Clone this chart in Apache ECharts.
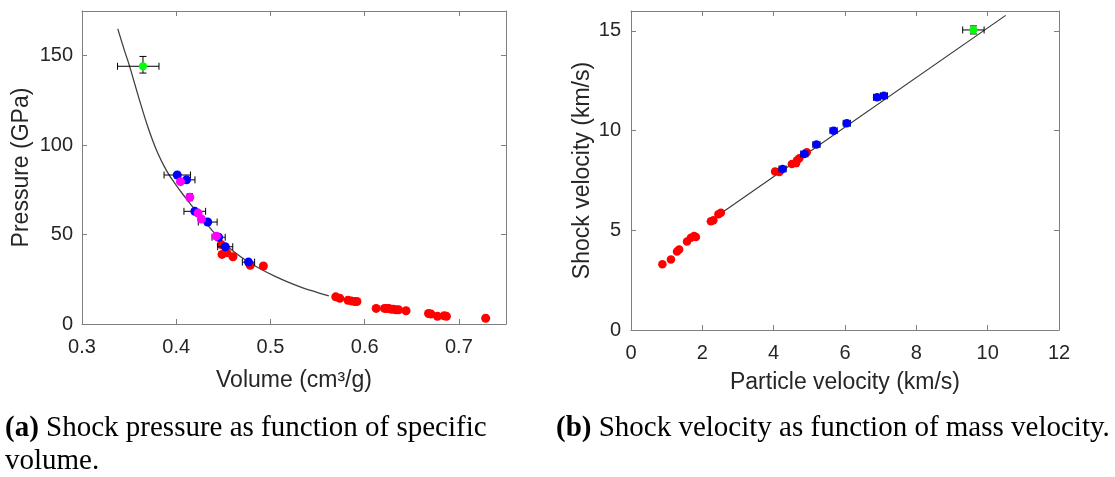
<!DOCTYPE html>
<html>
<head>
<meta charset="utf-8">
<script src="https://cdn.jsdelivr.net/npm/echarts@6/dist/echarts.min.js"></script>
<style>
html,body{margin:0;padding:0;background:#fff;}
#c{width:1115px;height:477px;}
</style>
</head>
<body>
<div id="c"></div>
<script>
// ---- tick labels ----
const leftXTicks = ['0.3', '0.4', '0.5', '0.6', '0.7'];
const leftYTicks = ['0', '50', '100', '150'];
const rightXTicks = ['0', '2', '4', '6', '8', '10', '12'];
const rightYTicks = ['0', '5', '10', '15'];

// ---- (a) pressure vs specific volume: [V, P] ----
const pvRed = [
  [0.4478, 44.4], [0.4486, 38.9], [0.4538, 39.8], [0.4602, 37.6], [0.4785, 32.8], [0.4925, 32.4],
  [0.5693, 15.2], [0.5735, 14.4], [0.5823, 13.3], [0.5858, 12.9], [0.5893, 12.6], [0.5918, 12.6],
  [0.6122, 8.7], [0.6210, 8.7], [0.6234, 8.7], [0.6255, 8.7], [0.6280, 8.3], [0.6304, 8.3],
  [0.6333, 7.9], [0.6361, 7.9], [0.6439, 7.4], [0.6678, 5.9], [0.6703, 5.6], [0.6773, 4.3],
  [0.6844, 4.6], [0.6868, 4.3], [0.7284, 3.2]
];
// [V, P, V-, V+, P-, P+]
const pvBlue = [
  [0.4011, 83.3, 0.014, 0.014, 0, 0],
  [0.4109, 80.6, 0.009, 0.009, 0, 0],
  [0.4197, 63.0, 0.0115, 0.0115, 0, 0],
  [0.4334, 57.0, 0.010, 0.010, 0, 0],
  [0.4450, 48.5, 0.007, 0.007, 0, 0],
  [0.4520, 43.2, 0.008, 0.008, 0, 0],
  [0.4767, 34.6, 0.0065, 0.0065, 0, 0]
];
const pvMagenta = [
  [0.4045, 79.6, 0, 0, 0, 0],
  [0.4144, 70.9, 0.003, 0.003, 2.0, 2.0],
  [0.4232, 62.0, 0, 0, 0, 0],
  [0.4267, 58.7, 0, 0, 0, 0],
  [0.4426, 49.1, 0, 0, 0, 0]
];
const pvGreen = [[0.3647, 144.1, 0.027, 0.017, 3.8, 5.5]];
const pvFit = [
  [0.338, 165], [0.345, 153], [0.350, 145], [0.360, 127], [0.370, 110], [0.380, 96],
  [0.390, 85.5], [0.400, 77.5], [0.410, 70.5], [0.420, 63.8], [0.430, 57.5], [0.440, 51.2],
  [0.450, 45.6], [0.460, 41.0], [0.475, 35.2], [0.490, 30.6], [0.505, 26.6], [0.520, 23.1],
  [0.535, 20.1], [0.550, 17.6], [0.562, 15.7]
];

// ---- (b) shock velocity vs particle velocity: [up, Us] ----
const usRed = [
  [0.88, 3.30], [1.12, 3.54], [1.29, 3.94], [1.35, 4.04], [1.57, 4.44], [1.68, 4.63], [1.77, 4.71],
  [1.82, 4.67], [2.24, 5.46], [2.31, 5.50], [2.45, 5.80], [2.52, 5.88], [4.04, 7.95], [4.16, 7.92],
  [4.51, 8.33], [4.63, 8.37], [4.65, 8.50], [4.72, 8.62], [4.93, 8.92]
];
const usBlue = [
  [4.25, 8.08, 0.1, 0.1, 0.1, 0.1], [4.86, 8.83, 0.1, 0.1, 0.1, 0.1], [5.20, 9.30, 0.1, 0.1, 0.1, 0.1],
  [5.68, 10.00, 0.1, 0.1, 0.1, 0.1], [6.05, 10.37, 0.1, 0.1, 0.1, 0.1], [6.90, 11.67, 0.1, 0.1, 0.1, 0.1],
  [7.09, 11.75, 0.1, 0.1, 0.1, 0.1]
];
const usGreen = [[9.60, 15.05, 0.30, 0.30, 0.2, 0.2]];
const usFit = [[2.576, 5.915], [10.506, 15.78]];

const FRAME = '#7f7f7f';
const TXT = '#262626';
const SANS = '"Liberation Sans", Arial, sans-serif';

function errRender(capPx) {
  return function (params, api) {
    const x = api.value(0), y = api.value(1);
    const xn = api.value(2), xp = api.value(3), yn = api.value(4), yp = api.value(5);
    const st = { stroke: '#000', lineWidth: 1 };
    const ch = [];
    if (xn > 0 || xp > 0) {
      const a = api.coord([x - xn, y]), b = api.coord([x + xp, y]);
      ch.push({ type: 'line', shape: { x1: a[0], y1: a[1], x2: b[0], y2: b[1] }, style: st });
      ch.push({ type: 'line', shape: { x1: a[0], y1: a[1] - capPx, x2: a[0], y2: a[1] + capPx }, style: st });
      ch.push({ type: 'line', shape: { x1: b[0], y1: b[1] - capPx, x2: b[0], y2: b[1] + capPx }, style: st });
    }
    if (yn > 0 || yp > 0) {
      const a = api.coord([x, y - yn]), b = api.coord([x, y + yp]);
      ch.push({ type: 'line', shape: { x1: a[0], y1: a[1], x2: b[0], y2: b[1] }, style: st });
      ch.push({ type: 'line', shape: { x1: a[0] - capPx, y1: a[1], x2: a[0] + capPx, y2: a[1] }, style: st });
      ch.push({ type: 'line', shape: { x1: b[0] - capPx, y1: b[1], x2: b[0] + capPx, y2: b[1] }, style: st });
    }
    return { type: 'group', children: ch };
  };
}

function labelFmt(list, digits) {
  return function (v) {
    const s = digits ? v.toFixed(digits) : String(Math.round(v));
    return list.indexOf(s) >= 0 && Math.abs(parseFloat(s) - v) < 1e-6 ? s : '';
  };
}

function axisBase(show) {
  return {
    axisLine: { show: true, onZero: false, lineStyle: { color: FRAME, width: 1 } },
    axisTick: { show: true, inside: true, length: 5, lineStyle: { color: FRAME } },
    splitLine: { show: false },
    axisLabel: { show: show, color: TXT, fontFamily: SANS, fontSize: 20 }
  };
}

const NAME_STYLE = { color: TXT, fontFamily: SANS, fontSize: 23 };

const grids = [
  { left: 82, top: 11, width: 424, height: 313 },
  { left: 631, top: 11, width: 428, height: 319 }
];

const xAxes = [
  Object.assign(axisBase(true), {
    gridIndex: 0, type: 'value', min: 0.3, max: 0.75, interval: 0.1, position: 'bottom',
    name: 'Volume (cm³/g)', nameLocation: 'middle', nameGap: 45, nameTextStyle: NAME_STYLE
  }),
  Object.assign(axisBase(false), { gridIndex: 0, type: 'value', min: 0.3, max: 0.75, interval: 0.1, position: 'top' }),
  Object.assign(axisBase(true), {
    gridIndex: 1, type: 'value', min: 0, max: 12, interval: 2, position: 'bottom',
    name: 'Particle velocity (km/s)', nameLocation: 'middle', nameGap: 41, nameTextStyle: NAME_STYLE
  }),
  Object.assign(axisBase(false), { gridIndex: 1, type: 'value', min: 0, max: 12, interval: 2, position: 'top' })
];
xAxes[0].axisLabel.formatter = labelFmt(leftXTicks, 1);
xAxes[0].axisLabel.margin = 13;
xAxes[2].axisLabel.formatter = labelFmt(rightXTicks, 0);
xAxes[2].axisLabel.margin = 13;

const yAxes = [
  Object.assign(axisBase(true), {
    gridIndex: 0, type: 'value', min: 0, max: 175, interval: 50, position: 'left',
    name: 'Pressure (GPa)', nameLocation: 'middle', nameGap: 49, nameTextStyle: NAME_STYLE
  }),
  Object.assign(axisBase(false), { gridIndex: 0, type: 'value', min: 0, max: 175, interval: 50, position: 'right' }),
  Object.assign(axisBase(true), {
    gridIndex: 1, type: 'value', min: 0, max: 16, interval: 5, position: 'left',
    name: 'Shock velocity (km/s)', nameLocation: 'middle', nameGap: 37, nameTextStyle: NAME_STYLE
  }),
  Object.assign(axisBase(false), { gridIndex: 1, type: 'value', min: 0, max: 16, interval: 5, position: 'right' })
];
yAxes[0].axisLabel.formatter = labelFmt(leftYTicks, 0);
yAxes[0].axisLabel.margin = 9;
yAxes[2].axisLabel.formatter = labelFmt(rightYTicks, 0);
yAxes[2].axisLabel.margin = 10;

function scatter(data, color, xi, yi, z, size) {
  return {
    type: 'scatter', data: data.map(d => [d[0], d[1]]), xAxisIndex: xi, yAxisIndex: yi,
    symbol: 'circle', symbolSize: size || 9, itemStyle: { color: color, opacity: 1 },
    z: z, silent: true, animation: false
  };
}
function errSeries(data, xi, yi, z, cap) {
  return {
    type: 'custom', data: data, xAxisIndex: xi, yAxisIndex: yi,
    dimensions: ['x', 'y', 'xn', 'xp', 'yn', 'yp'],
    encode: { x: 0, y: 1 },
    renderItem: errRender(cap), z: z, silent: true, animation: false
  };
}

const series = [
  {
    type: 'line', data: pvFit, xAxisIndex: 0, yAxisIndex: 0, smooth: 0.4, showSymbol: false,
    symbol: 'none', lineStyle: { color: '#404040', width: 1.3 }, z: 1, animation: false, silent: true
  },
  scatter(pvRed, '#ff0000', 0, 0, 2),
  errSeries(pvBlue, 0, 0, 3, 3.5),
  scatter(pvBlue, '#0000ff', 0, 0, 4),
  errSeries(pvMagenta, 0, 0, 5, 3),
  scatter(pvMagenta, '#ff00ff', 0, 0, 6),
  errSeries(pvGreen, 0, 0, 7, 3.5),
  scatter(pvGreen, '#00ff00', 0, 0, 8, 8),

  {
    type: 'line', data: usFit, xAxisIndex: 2, yAxisIndex: 2, showSymbol: false, symbol: 'none',
    lineStyle: { color: '#333333', width: 1.1 }, z: 1, animation: false, silent: true
  },
  scatter(usRed, '#ff0000', 2, 2, 2, 8.5),
  errSeries(usBlue, 2, 2, 3, 3.5),
  scatter(usBlue, '#0000ff', 2, 2, 4, 8.5),
  errSeries(usGreen, 2, 2, 5, 3.5),
  scatter(usGreen, '#00ff00', 2, 2, 6, 8)
];

const SERIF = '"Liberation Serif", "Times New Roman", serif';
const capStyle = { fontFamily: SERIF, fontSize: 29, lineHeight: 33, fill: '#000', color: '#000' };
const option = {
  animation: false,
  backgroundColor: '#ffffff',
  grid: grids,
  xAxis: xAxes,
  yAxis: yAxes,
  series: series,
  graphic: [
    {
      type: 'text', left: 5, top: 412,
      style: {
        text: '{b|(a)}{n| Shock pressure as function of specific}\n{n|volume.}',
        rich: {
          b: Object.assign({}, capStyle, { fontWeight: 'bold' }),
          n: Object.assign({}, capStyle)
        },
        fontFamily: SERIF, fontSize: 29, lineHeight: 33
      }
    },
    {
      type: 'text', left: 556, top: 412,
      style: {
        text: '{b|(b)}{n| Shock velocity as function of mass velocity.}',
        rich: {
          b: Object.assign({}, capStyle, { fontWeight: 'bold' }),
          n: Object.assign({}, capStyle)
        },
        fontFamily: SERIF, fontSize: 29, lineHeight: 33
      }
    }
  ]
};

const chart = echarts.init(document.getElementById('c'), null, { renderer: 'canvas' });
chart.setOption(option);
</script>
</body>
</html>
